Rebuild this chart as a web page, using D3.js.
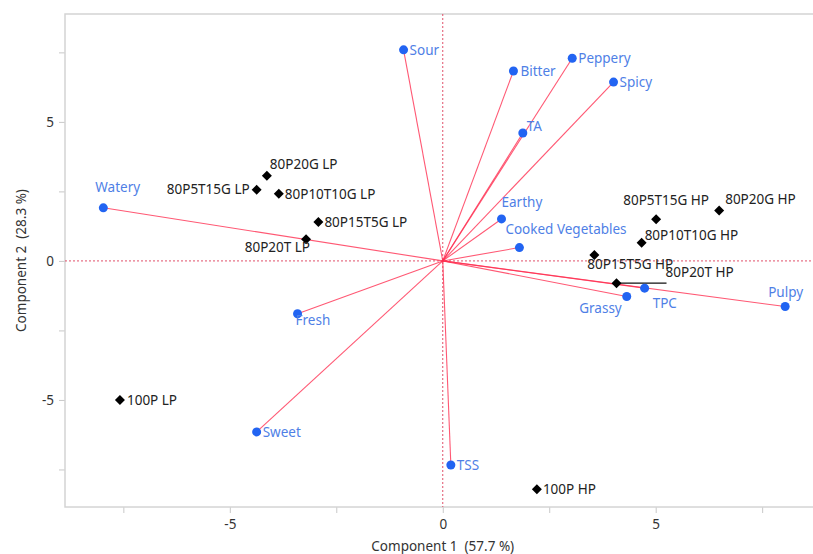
<!DOCTYPE html>
<html>
<head>
<meta charset="utf-8">
<script src="https://cdn.jsdelivr.net/npm/d3@7"></script>
<style>
  body { margin: 0; background: #fff; }
  text { font-family: "Noto Sans", "Open Sans", sans-serif; white-space: pre; }
</style>
</head>
<body>
<svg id="biplot" width="813" height="554"></svg>
<script>
// loadings (blue points, rays from origin)
let varNames = ["Sour", "Bitter", "Peppery", "Spicy", "TA", "Earthy", "Cooked Vegetables",
                "Watery", "Fresh", "Sweet", "TSS", "Grassy", "TPC", "Pulpy"];
let varX = [-0.92, 1.66, 3.04, 4.01, 1.88, 1.38, 1.80, -7.97, -3.41, -4.37, 0.19, 4.32, 4.74, 8.04];
let varY = [7.59, 6.83, 7.29, 6.43, 4.60, 1.51, 0.48, 1.91, -1.90, -6.15, -7.34, -1.28, -0.98, -1.64];

// scores (black diamonds)
let sampleNames = ["80P20G LP", "80P5T15G LP", "80P10T10G LP", "80P15T5G LP", "80P20T LP", "100P LP",
                   "100P HP", "80P5T15G HP", "80P20G HP", "80P10T10G HP", "80P15T5G HP", "80P20T HP"];
let sampleX = [-4.13, -4.37, -3.85, -2.92, -3.21, -7.58, 2.21, 5.01, 6.49, 4.67, 3.56, 4.08];
let sampleY = [3.06, 2.56, 2.42, 1.40, 0.78, -5.00, -8.21, 1.50, 1.81, 0.65, 0.21, -0.80];

let xTicks = [-7.5, -5, -2.5, 0, 2.5, 5, 7.5],
    yTicks = [-7.5, -5, -2.5, 0, 2.5, 5, 7.5];

// label placement: [dx, dy, anchor]
let varLabelPos = {
  "Sour": [6, 5, "start"], "Bitter": [7, 5, "start"], "Peppery": [6, 5, "start"],
  "Spicy": [6, 5, "start"], "TA": [4, -2, "start"], "Earthy": [0, -12, "start"],
  "Cooked Vegetables": [-14, -14, "start"], "Watery": [-8, -16, "start"],
  "Fresh": [-2, 11, "start"], "Sweet": [6, 5, "start"], "TSS": [6, 5, "start"],
  "Grassy": [-5, 16, "end"], "TPC": [8, 20, "start"], "Pulpy": [-17, -10, "start"]
};
let sampleLabelPos = {
  "80P20G LP": [3, -7, "start"], "80P5T15G LP": [-7, 4, "end"], "80P10T10G LP": [6, 5, "start"],
  "80P15T5G LP": [6, 5, "start"], "80P20T LP": [4, 13, "end"], "100P LP": [7, 5, "start"],
  "100P HP": [6, 5, "start"], "80P5T15G HP": [10, -14, "middle"], "80P20G HP": [6, -7, "start"],
  "80P10T10G HP": [3, -3, "start"], "80P15T5G HP": [-7, 14, "start"], "80P20T HP": [49, -6, "start"]
};

const svg = d3.select("#biplot");
const mLeft = 65, mRight = 812, mTop = 14, mBottom = 507;

let x = d3.scaleLinear().domain([-8.87, 8.67]).range([mLeft, mRight]);
let y = d3.scaleLinear().domain([-8.85, 8.88]).range([mBottom, mTop]);

let vars = varNames.map((n, i) => ({name: n, x: varX[i], y: varY[i]}));
let samples = sampleNames.map((n, i) => ({name: n, x: sampleX[i], y: sampleY[i]}));

// axes
let fmt = d => (d % 5 === 0 ? (d < 0 ? "-" + Math.abs(d) : String(d)) : "");

let gx = svg.append("g")
    .attr("transform", "translate(0," + mBottom + ")")
    .call(d3.axisBottom(x).tickValues(xTicks).tickSize(6).tickPadding(6).tickFormat(fmt));
let gy = svg.append("g")
    .attr("transform", "translate(" + mLeft + ",0)")
    .call(d3.axisLeft(y).tickValues(yTicks).tickSize(6).tickPadding(5).tickFormat(fmt));
[gx, gy].forEach(g => {
  g.select(".domain").remove();
  g.selectAll(".tick line").attr("stroke", "#c8c8c8");
  g.selectAll(".tick text").attr("fill", "#333").style("font-size", "13.5px");
});

// frame
svg.append("rect")
    .attr("x", mLeft).attr("y", mTop)
    .attr("width", mRight - mLeft + 3).attr("height", mBottom - mTop)
    .attr("fill", "none").attr("stroke", "#d4d4d4").attr("stroke-width", 1.5);

// zero reference lines
svg.append("line")
    .attr("x1", x(0)).attr("x2", x(0)).attr("y1", mTop).attr("y2", mBottom)
    .attr("stroke", "#e0506a").attr("stroke-dasharray", "2,2");
svg.append("line")
    .attr("x1", mLeft).attr("x2", mRight).attr("y1", y(0)).attr("y2", y(0))
    .attr("stroke", "#e0506a").attr("stroke-dasharray", "2,2");

// rays
svg.selectAll("line.ray")
  .data(vars)
  .enter().append("line")
    .attr("class", "ray")
    .attr("x1", x(0)).attr("y1", y(0))
    .attr("x2", d => x(d.x)).attr("y2", d => y(d.y))
    .attr("stroke", "#ff2e50").attr("stroke-opacity", 0.8).attr("stroke-width", 1.1);

// leader line for 80P20T HP
let s20 = samples.find(d => d.name === "80P20T HP");
svg.append("line")
    .attr("x1", x(s20.x)).attr("y1", y(s20.y))
    .attr("x2", x(s20.x) + 50).attr("y2", y(s20.y))
    .attr("stroke", "#111").attr("stroke-width", 1.3);

// loading points
svg.selectAll("circle.var")
  .data(vars)
  .enter().append("circle")
    .attr("class", "var")
    .attr("cx", d => x(d.x)).attr("cy", d => y(d.y))
    .attr("r", 4.5)
    .attr("fill", "#2264f2");

svg.selectAll("text.var")
  .data(vars)
  .enter().append("text")
    .attr("class", "var")
    .attr("x", d => x(d.x) + varLabelPos[d.name][0])
    .attr("y", d => y(d.y) + varLabelPos[d.name][1])
    .attr("text-anchor", d => varLabelPos[d.name][2])
    .attr("fill", "#4f7fe6")
    .style("font-size", "13.5px")
    .text(d => d.name);

// score points
let diamond = d3.symbol().type(d3.symbolSquare).size(50);
svg.selectAll("path.sample")
  .data(samples)
  .enter().append("path")
    .attr("class", "sample")
    .attr("d", diamond)
    .attr("transform", d => "translate(" + x(d.x) + "," + y(d.y) + ") rotate(45)")
    .attr("fill", "#000");

svg.selectAll("text.sample")
  .data(samples)
  .enter().append("text")
    .attr("class", "sample")
    .attr("x", d => x(d.x) + sampleLabelPos[d.name][0])
    .attr("y", d => y(d.y) + sampleLabelPos[d.name][1])
    .attr("text-anchor", d => sampleLabelPos[d.name][2])
    .attr("fill", "#222")
    .style("font-size", "13.5px")
    .text(d => d.name);

// axis titles
svg.append("text")
    .attr("x", x(0)).attr("y", 551)
    .attr("text-anchor", "middle")
    .attr("fill", "#333").style("font-size", "13.5px")
    .text("Component 1  (57.7 %)");
svg.append("text")
    .attr("transform", "translate(26," + ((mTop + mBottom) / 2) + ") rotate(-90)")
    .attr("text-anchor", "middle")
    .attr("fill", "#333").style("font-size", "13.5px")
    .text("Component 2  (28.3 %)");
</script>
</body>
</html>
